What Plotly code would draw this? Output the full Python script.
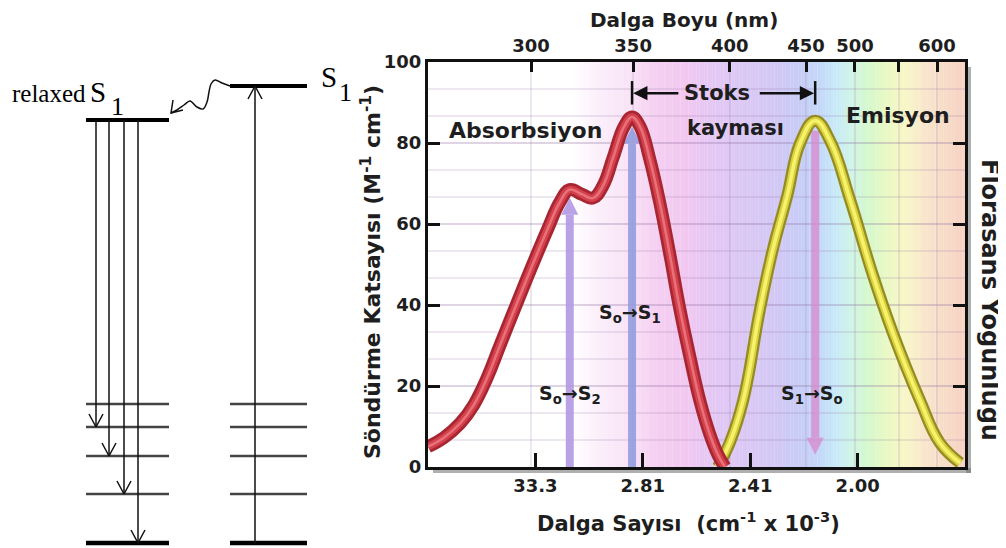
import numpy as np
import plotly.graph_objects as go

# ================= Jablonski diagram (left part) =================
# energies in diagram units (S0 ground = 0), x in diagram units
ground_levels = [0, 49, 87, 116, 139]   # S0 and its vibrational levels
relaxed_s1 = 423
s1_level = 457
left_col = [86, 169]
right_col = [230, 307]
emission_x = [96, 109, 124, 138]
emission_end = [116, 87, 49, 0]
absorption_x = 255
wave_x = [230, 222, 215, 211, 209, 207, 203, 197, 190, 184, 177, 171]
wave_e = [457, 460, 463, 459, 451, 441, 434, 436, 442, 438, 433, 430]

# ================= Spectrum (right part) =================
# x: relative position along the spectral axis (0-100), y: 0-100
abs_pos = [0.0, 3.0, 6.0, 8.5, 11.0, 13.4, 18.4, 22.2, 24.6, 26.4, 28.7, 30.7, 32.6, 34.5,
           36.5, 38.0, 39.5, 41.3, 43.2, 45.1, 46.9, 48.8, 50.7, 52.5, 54.0, 55.3]
abs_val = [5, 7.3, 10.8, 15.3, 22, 30, 46.5, 58.5, 65.5, 68.5, 67.3, 66.4, 69.5, 76.5,
           84, 86.4, 84, 76, 65, 52, 39, 27, 16, 8, 3, 0]
emi_pos = [54.0, 56.2, 58.7, 61.8, 64.2, 66.9, 69.3, 72.1, 74.9, 78.6, 82.7, 86.6, 91.6, 95.3, 99.1]
emi_val = [0, 6, 16.5, 38.8, 53.6, 67, 80, 85.5, 80.5, 66, 48, 33, 16.5, 6, 1]

top_tick_pos = [19.2, 38.2, 56.2, 70.4, 79.5, 87.7, 94.8]
top_tick_text = ["300", "350", "400", "450", "500", "", "600"]
bottom_tick_pos = [20, 40, 60, 80]
bottom_tick_text = ["33.3", "2.81", "2.41", "2.00"]
y_ticks = [0, 20, 40, 60, 80, 100]

trans_pos = [26.4, 38.0, 72.1]
trans_from = [0, 0, 83]
trans_to = [66.5, 84, 3]
trans_color = ["rgba(178,152,228,0.9)", "rgba(150,158,222,0.92)", "rgba(214,140,206,0.8)"]
trans_label = ["S<sub>o</sub>→S<sub>2</sub>", "S<sub>o</sub>→S<sub>1</sub>", "S<sub>1</sub>→S<sub>o</sub>"]
trans_label_pos = [26.4, 37.6, 71.6]
trans_label_y = [18, 38, 18]

stokes_left = 38.0
stokes_right = 72.1

bg_pos = [0, 27, 32, 38, 42, 48, 52, 58, 64, 69, 73, 76, 79, 82, 86, 89, 93, 100]
bg_col = ["#ffffff", "#ffffff", "#fbeefa", "#f8e2f6", "#f5d0f2", "#f2c8f0", "#e6c8f4",
          "#dcc8f4", "#d4c8f4", "#c8ccf6", "#c4d8f8", "#c8eaf8", "#d0f4e4", "#d6f8cc",
          "#ecf8c4", "#f8f6c8", "#f8e4cc", "#f6d2c2"]

# page offset (default body margin) and figure size
OFF = 8
W, H = 998, 540


def fx(p):
    return (p - OFF) / W


def fy(p):
    return (H - (p - OFF)) / H


X_L, X_R = fx(428), fx(965)
Y_B, Y_T = fy(467), fy(62)
px_x = (X_R - X_L) * W / 100.0
px_y = (Y_T - Y_B) * H / 100.0

SANS = "DejaVu Sans"
SERIF = "Liberation Serif"
TXT = "#1e1e1e"

fig = go.Figure()

# ---------- diagram traces ----------
def dline(xs, es, width=1.5, color="#111"):
    fig.add_trace(go.Scatter(x=xs, y=es, mode="lines", xaxis="x2", yaxis="y2",
                             line=dict(color=color, width=width), hoverinfo="skip"))

for i, e in enumerate(ground_levels):
    w = 4.5 if i == 0 else 2.5
    c = "#000" if i == 0 else "#444"
    dline(left_col, [e, e], w, c)
    dline(right_col, [e, e], w, c)
dline(left_col, [relaxed_s1, relaxed_s1], 4, "#000")
dline(right_col, [s1_level, s1_level], 4, "#000")

for x, e in zip(emission_x, emission_end):
    dline([x, x], [relaxed_s1, e], 1.5)
    dline([x - 7, x, x + 7], [e + 13, e, e + 13], 1.5)
dline([absorption_x, absorption_x], [ground_levels[0], s1_level], 1.5)
dline([absorption_x - 7, absorption_x, absorption_x + 7], [s1_level - 13, s1_level, s1_level - 13], 1.5)

fig.add_trace(go.Scatter(x=wave_x, y=wave_e, mode="lines", xaxis="x2", yaxis="y2",
                         line=dict(color="#111", width=1.5, shape="spline", smoothing=1.0),
                         hoverinfo="skip"))
tx, te = wave_x[-1], wave_e[-1]
dline([tx + 2, tx, tx + 12], [te + 13, te, te + 3], 1.5)

# ---------- spectrum background ----------
def hex2rgb(h):
    h = h.lstrip("#")
    return np.array([int(h[i:i + 2], 16) for i in (0, 2, 4)], dtype=float)

shapes = []
cols = np.array([hex2rgb(c) for c in bg_col])
edges = np.linspace(0, 100, 201)
for a, b in zip(edges[:-1], edges[1:]):
    m = 0.5 * (a + b)
    rgb = [np.interp(m, bg_pos, cols[:, k]) for k in range(3)]
    shapes.append(dict(type="rect", xref="x", yref="y", x0=a, x1=b + 0.05, y0=0, y1=100,
                       layer="below", line=dict(width=0),
                       fillcolor="rgb(%d,%d,%d)" % tuple(int(round(v)) for v in rgb)))

# drop shadow
shapes.append(dict(type="rect", xref="paper", yref="paper", x0=X_R + 1 / W, x1=X_R + 6 / W,
                   y0=Y_B - 6 / H, y1=Y_T - 5 / H, line=dict(width=0),
                   fillcolor="rgba(110,110,110,0.55)", layer="below"))
shapes.append(dict(type="rect", xref="paper", yref="paper", x0=X_L + 5 / W, x1=X_R + 6 / W,
                   y0=Y_B - 6 / H, y1=Y_B - 1 / H, line=dict(width=0),
                   fillcolor="rgba(110,110,110,0.55)", layer="below"))

# ---------- transition arrows ----------
for p, a, b, c in zip(trans_pos, trans_from, trans_to, trans_color):
    d = 1 if b > a else -1
    hl = 17 / px_y
    hw = 8.5 / px_x
    fig.add_trace(go.Scatter(x=[p, p], y=[a, b - d * hl], mode="lines",
                             line=dict(color=c, width=8), hoverinfo="skip"))
    fig.add_trace(go.Scatter(x=[p - hw, p, p + hw, p - hw], y=[b - d * hl, b, b - d * hl, b - d * hl],
                             mode="lines", fill="toself", fillcolor=c, line=dict(width=0, color=c),
                             hoverinfo="skip"))

# ---------- curves ----------
for col, w in [("#948c22", 12), ("#d8d040", 7.5), ("#f6f26a", 3.5)]:
    fig.add_trace(go.Scatter(x=emi_pos, y=emi_val, mode="lines", hoverinfo="skip",
                             line=dict(color=col, width=w, shape="spline", smoothing=1.2)))
for col, w in [("#a82632", 13), ("#d4404c", 7.5), ("#e8727a", 2.5)]:
    fig.add_trace(go.Scatter(x=abs_pos, y=abs_val, mode="lines", hoverinfo="skip",
                             line=dict(color=col, width=w, shape="spline", smoothing=1.2)))

# stokes bracket ticks
for p in (stokes_left, stokes_right):
    fig.add_trace(go.Scatter(x=[p, p], y=[89.5, 95.3], mode="lines",
                             line=dict(color="#111", width=2.5), hoverinfo="skip"))

# helper traces so overlay axes are drawn
fig.add_trace(go.Scatter(x=[None], y=[None], xaxis="x3", yaxis="y"))
fig.add_trace(go.Scatter(x=[None], y=[None], xaxis="x", yaxis="y3"))

# ---------- annotations ----------
ann = []
def txt(x, y, s, size, xref="x", yref="y", angle=0, family=SANS, bold=True, color=TXT, xanchor="center"):
    ann.append(dict(x=x, y=y, xref=xref, yref=yref, text=s, showarrow=False, textangle=angle,
                    xanchor=xanchor, yanchor="middle",
                    font=dict(family=family, size=size, color=color, weight="bold" if bold else "normal")))

txt(18.2, 83.2, "Absorbsiyon", 22)
txt(87.5, 86.9, "Emisyon", 22)
txt(53.8, 92.3, "Stoks", 21)
txt(57.2, 83.7, "kayması", 21)
for p, yv, s in zip(trans_label_pos, trans_label_y, trans_label):
    txt(p, yv, s, 19)

# stokes arrows
for head, tail in [(stokes_left + 0.2, 46.9), (stokes_right - 0.2, 61.5)]:
    ann.append(dict(x=head, y=92.3, ax=tail, ay=92.3, xref="x", yref="y", axref="x", ayref="y",
                    text="", showarrow=True, arrowhead=2, arrowsize=1.1, arrowwidth=2.6,
                    arrowcolor="#111", standoff=0))

# axis titles
txt(fx(684), fy(20), "Dalga Boyu (nm)", 20, "paper", "paper")
txt(fx(688), fy(522), "Dalga Sayısı  (cm<sup>-1</sup> x 10<sup>-3</sup>)", 21, "paper", "paper")
txt(fx(371), fy(272), "Söndürme Katsayısı (M<sup>-1</sup> cm<sup>-1</sup>)", 22, "paper", "paper", -90)
txt(fx(990), fy(300), "Florasans Yoğunluğu", 24, "paper", "paper", 90)

# diagram labels
txt(10, relaxed_s1 + 27, "relaxed", 25, "x2", "y2", family=SERIF, bold=False, color="#000", xanchor="left")
txt(88, relaxed_s1 + 28, "S", 29, "x2", "y2", family=SERIF, bold=False, color="#000", xanchor="left")
txt(109, relaxed_s1 + 14, "1", 26, "x2", "y2", family=SERIF, bold=False, color="#000", xanchor="left")
txt(319, s1_level + 9, "S", 29, "x2", "y2", family=SERIF, bold=False, color="#000", xanchor="left")
txt(337, s1_level - 6, "1", 26, "x2", "y2", family=SERIF, bold=False, color="#000", xanchor="left")

tickfont = dict(family=SANS, size=18, color=TXT, weight="bold")
gridc = "rgba(140,110,160,0.16)"

fig.update_layout(
    template="none",
    width=W, height=H, margin=dict(l=0, r=0, t=0, b=0, pad=0), autosize=False,
    paper_bgcolor="white", plot_bgcolor="white", showlegend=False,
    shapes=shapes, annotations=ann,
    xaxis=dict(domain=[X_L, X_R], range=[0, 100], anchor="y", tickmode="array", automargin=False,
               tickvals=bottom_tick_pos, ticktext=bottom_tick_text, ticks="inside",
               ticklen=14, tickwidth=3, tickcolor="#111", showline=True, linewidth=3,
               linecolor="#111", showgrid=False, zeroline=False, tickfont=tickfont,
               fixedrange=True),
    xaxis3=dict(range=[0, 100], overlaying="x", side="top", anchor="y", tickmode="array",
                automargin=False,
                tickvals=top_tick_pos, ticktext=top_tick_text, ticks="inside", ticklen=10,
                tickwidth=3, tickcolor="#111", showline=True, linewidth=3, linecolor="#111",
                showgrid=True, gridcolor=gridc, gridwidth=1.5, zeroline=False,
                tickfont=tickfont, fixedrange=True),
    yaxis=dict(domain=[Y_B, Y_T], range=[0, 100], anchor="x", tickmode="array", automargin=False,
               tickvals=y_ticks, ticks="inside", ticklen=12, tickwidth=3, tickcolor="#111",
               showline=True, linewidth=3, linecolor="#111", showgrid=True, gridcolor=gridc,
               gridwidth=1.5, minor=dict(dtick=20 / 3, tick0=0, showgrid=True, gridcolor=gridc,
                                         gridwidth=1.5, ticks=""),
               zeroline=False, tickfont=tickfont, fixedrange=True),
    yaxis3=dict(range=[0, 100], overlaying="y", side="right", anchor="x", tickmode="array",
                automargin=False,
                tickvals=[20, 40, 60, 80], ticks="inside", ticklen=12, tickwidth=3,
                tickcolor="#111", showticklabels=False, showline=True, linewidth=3,
                linecolor="#111", showgrid=False, zeroline=False, fixedrange=True),
    xaxis2=dict(domain=[0, fx(348)], range=[OFF, 348], anchor="y2", visible=False, fixedrange=True,
                automargin=False),
    yaxis2=dict(domain=[0, 1], range=[543 - (H + OFF), 543 - OFF], anchor="x2", visible=False,
                fixedrange=True, automargin=False),
)

fig.write_html("out.html")
